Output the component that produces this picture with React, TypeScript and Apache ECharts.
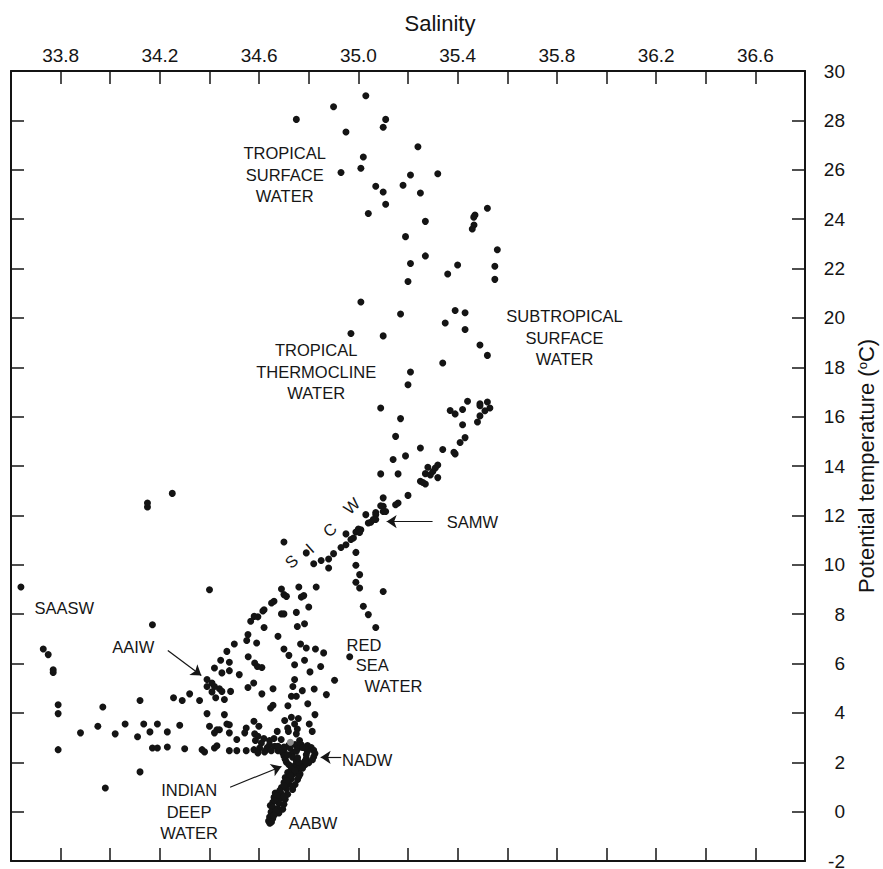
import React, { useEffect, useRef } from 'react';
import * as echarts from 'echarts';

// ---------- data (salinity, potential temperature) ----------
const surfacePts: number[][] = [
  [35.03, 29.0], [34.9, 28.55], [34.75, 28.04], [35.11, 28.04], [35.1, 27.72], [34.95, 27.53],
  [35.24, 26.93], [35.02, 26.52], [35.01, 26.06], [34.93, 25.89], [35.21, 25.79], [35.32, 25.84],
  [35.07, 25.33], [35.18, 25.37], [35.1, 25.1], [35.25, 25.06], [35.11, 24.6], [35.04, 24.23],
  [35.52, 24.44], [35.47, 24.17], [35.465, 24.08], [35.466, 23.76], [35.459, 23.6], [35.27, 23.91],
  [35.19, 23.29], [35.56, 22.76], [35.27, 22.51], [35.21, 22.2], [35.4, 22.14], [35.55, 22.09],
  [35.36, 21.78], [35.2, 21.47], [35.55, 21.56],
];

const thermoclinePts: number[][] = [
  [35.01, 20.64], [35.17, 20.16], [35.39, 20.3], [35.43, 20.21], [35.35, 19.79], [35.43, 19.53],
  [34.97, 19.37], [35.1, 19.27], [35.49, 18.9], [35.52, 18.48], [35.34, 18.17], [35.21, 17.81],
  [35.2, 17.29], [35.09, 16.35], [35.44, 16.62], [35.37, 16.25], [35.39, 16.11], [35.42, 16.29],
  [35.49, 16.52], [35.49, 16.44], [35.52, 16.59], [35.53, 16.35], [35.51, 16.24], [35.49, 16.03],
  [35.48, 15.78], [35.42, 15.67], [35.17, 15.92], [35.43, 15.15], [35.41, 14.95], [35.15, 15.2],
  [35.25, 14.73], [35.34, 14.67], [35.39, 14.49], [35.385, 14.56], [35.19, 14.41], [35.14, 14.26],
  [35.32, 14.04], [35.31, 13.92], [35.28, 13.95], [35.27, 13.69], [35.29, 13.64], [35.3, 13.78],
  [35.32, 13.53], [35.09, 13.68], [35.16, 13.68], [35.25, 13.38], [35.27, 13.27], [35.26, 13.33],
  [35.2, 12.81], [35.1, 12.71],
];

const centralPts: number[][] = [
  [35.16, 12.5], [35.15, 12.43], [35.1, 12.37], [35.11, 12.16], [35.09, 12.39], [35.1, 12.16],
  [35.07, 12.12], [35.07, 12.03], [35.03, 12.03], [35.06, 11.83], [35.05, 11.72], [35.04, 11.69],
  [35.07, 11.83], [35.01, 11.42], [35.0, 11.45], [34.99, 11.33], [35.005, 11.31], [34.95, 11.25],
  [34.98, 11.08], [34.97, 11.02], [34.95, 10.81], [34.93, 10.7], [34.9, 10.45], [34.88, 10.23],
  [34.85, 10.17], [34.82, 10.04], [34.88, 9.87], [34.79, 10.48], [34.7, 10.92],
];

const redSeaPts: number[][] = [
  [34.99, 10.5], [34.99, 9.98], [35.005, 9.6], [34.99, 9.29], [35.005, 9.06], [35.1, 8.92],
  [35.02, 8.32], [35.04, 7.98], [35.07, 7.46], [34.965, 6.27],
];

const isolatedPts: number[][] = [
  [34.15, 12.34], [34.15, 12.5], [34.25, 12.89], [33.64, 9.1], [34.4, 8.99], [34.17, 7.57],
];

const intermediatePts: number[][] = [
  [34.76, 9.1], [34.83, 9.1], [34.69, 9.02], [34.7, 8.79], [34.71, 8.72], [34.77, 8.69],
  [34.78, 8.75], [34.66, 8.52], [34.65, 8.45], [34.8, 8.29], [34.75, 8.07], [34.69, 8.01],
  [34.7, 8.01], [34.62, 8.18], [34.615, 8.13], [34.58, 7.91], [34.595, 7.89],
  [33.73, 6.59], [33.75, 6.36], [33.77, 5.75], [33.77, 5.64], [33.79, 4.33], [33.79, 3.97],
  [33.79, 2.51], [33.88, 3.19], [33.95, 3.46], [33.97, 4.24], [33.98, 0.96], [34.02, 3.15],
  [34.06, 3.55], [34.12, 4.5], [34.11, 3.03], [34.135, 3.55], [34.12, 1.61], [34.16, 3.23],
  [34.19, 3.55], [34.17, 2.58], [34.19, 2.58], [34.23, 2.62], [34.23, 3.23], [34.28, 3.5],
  [34.3, 2.55], [34.255, 4.61], [34.29, 4.5], [34.32, 4.77], [34.36, 4.5], [34.37, 2.51],
  [34.38, 2.42], [34.39, 3.97], [34.4, 3.46], [34.43, 3.32], [34.44, 3.32], [34.42, 3.19],
  [34.42, 2.58], [34.43, 2.67], [34.48, 2.47], [34.51, 2.47], [34.46, 3.93], [34.47, 3.55],
  [34.48, 3.52], [34.48, 3.19], [34.51, 2.92], [34.39, 5.35], [34.41, 5.21], [34.39, 5.07],
  [34.42, 5.07], [34.44, 4.98], [34.45, 4.87], [34.485, 4.87], [34.41, 4.85], [34.425, 4.61],
  [34.46, 4.54], [34.42, 5.82], [34.45, 5.62], [34.48, 5.71], [34.48, 6.05], [34.445, 6.13],
  [34.47, 6.49], [34.5, 6.79], [34.52, 5.55],
  [34.566, 7.71], [34.62, 7.46], [34.754, 7.5], [34.783, 7.61], [34.555, 7.17], [34.55, 6.93],
  [34.59, 6.83], [34.676, 7.1], [34.7, 6.59], [34.72, 6.33], [34.767, 6.79], [34.79, 6.63],
  [34.827, 6.59], [34.86, 6.43], [34.556, 6.27], [34.582, 6.02], [34.593, 5.88], [34.611, 5.84],
  [34.743, 5.95], [34.783, 6.13], [34.848, 5.88], [34.805, 5.66], [34.743, 5.35], [34.578, 5.21],
  [34.555, 5.03], [34.736, 5.07], [34.904, 5.32], [34.656, 4.98], [34.774, 4.9], [34.822, 4.97],
  [34.611, 4.77], [34.73, 4.67], [34.75, 4.67], [34.871, 4.74], [34.796, 4.37], [34.656, 4.31],
  [34.646, 4.2], [34.716, 4.29], [34.825, 3.93], [34.73, 3.82], [34.758, 3.77], [34.703, 3.69],
  [34.579, 3.66], [34.802, 3.55], [34.743, 3.55], [34.599, 3.46], [34.548, 3.39], [34.715, 3.39],
  [34.718, 3.25], [34.754, 3.35], [34.75, 3.15], [34.814, 3.25], [34.542, 3.19], [34.582, 3.15],
  [34.595, 3.05], [34.673, 3.25], [34.619, 2.96], [34.642, 2.88], [34.66, 2.96], [34.689, 2.92],
  [34.585, 2.88], [34.609, 2.78], [34.763, 2.88], [34.642, 2.71], [34.663, 2.65], [34.633, 2.6],
  [34.548, 2.47], [34.579, 2.51], [34.602, 2.58], [34.629, 2.51], [34.649, 2.47], [34.676, 2.47],
  [34.696, 2.47], [34.595, 2.38], [34.622, 2.42], [34.676, 2.65],
];

const deepPts: number[][] = [
  // NADW loop
  [34.7, 2.62], [34.72, 2.7], [34.745, 2.72], [34.77, 2.71], [34.795, 2.68], [34.81, 2.6],
  [34.82, 2.48], [34.825, 2.35], [34.82, 2.22], [34.815, 2.1], [34.8, 1.98], [34.785, 1.9],
  [34.765, 1.86], [34.745, 1.88], [34.7, 2.5], [34.695, 2.38], [34.7, 2.25], [34.705, 2.12],
  [34.71, 2.0], [34.72, 1.9], [34.735, 2.4], [34.735, 2.2], [34.795, 2.45], [34.79, 2.15],
  [34.75, 2.05], [34.725, 2.58], [34.785, 2.58], [34.715, 2.3], [34.755, 2.55], [34.775, 2.6],
  [34.785, 2.05], [34.76, 2.0], [34.75, 2.45], [34.79, 2.3], [34.755, 2.18],
  // AABW tail
  [34.73, 1.75], [34.755, 1.72], [34.775, 1.76], [34.715, 1.58], [34.74, 1.55], [34.765, 1.52],
  [34.705, 1.38], [34.73, 1.33], [34.755, 1.3], [34.7, 1.18], [34.72, 1.12], [34.745, 1.1],
  [34.69, 0.98], [34.71, 0.93], [34.735, 0.9], [34.665, 0.75], [34.69, 0.72], [34.715, 0.7],
  [34.66, 0.58], [34.685, 0.53], [34.705, 0.5], [34.655, 0.38], [34.68, 0.33], [34.7, 0.3],
  [34.645, 0.25], [34.655, 0.18], [34.675, 0.12], [34.695, 0.1], [34.648, -0.02], [34.665, -0.08],
  [34.68, -0.05], [34.642, -0.22], [34.655, -0.28], [34.638, -0.38], [34.643, -0.47], [34.65, -0.42],
  [34.745, 1.65], [34.725, 1.45], [34.712, 1.25], [34.7, 1.05], [34.683, 0.85], [34.672, 0.65],
  [34.662, 0.45], [34.668, 0.02], [34.66, -0.15], [34.76, 1.42], [34.735, 1.02], [34.7, 0.62],
];

const greyPts: number[][] = [[34.726, 2.81]];

// tick labels shown along the top axis
const xLabelValues: number[] = [33.8, 34.2, 34.6, 35.0, 35.4, 35.8, 36.2, 36.6];

// water-mass annotations (text + anchor in data units)
const annotations = [
  { text: 'TROPICAL\nSURFACE\nWATER', at: [34.703, 25.79], align: 'center' },
  { text: 'TROPICAL\nTHERMOCLINE\nWATER', at: [34.83, 17.81], align: 'center' },
  { text: 'SUBTROPICAL\nSURFACE\nWATER', at: [35.831, 19.2], align: 'center' },
  { text: 'SAMW', at: [35.356, 11.75], align: 'left' },
  { text: 'SAASW', at: [33.695, 8.25], align: 'left' },
  { text: 'AAIW', at: [34.008, 6.67], align: 'left' },
  { text: 'RED', at: [34.952, 6.76], align: 'left' },
  { text: 'SEA', at: [34.989, 5.93], align: 'left' },
  { text: 'WATER', at: [35.025, 5.07], align: 'left' },
  { text: 'NADW', at: [34.934, 2.11], align: 'left' },
  { text: 'INDIAN\nDEEP\nWATER', at: [34.318, -0.01], align: 'center' },
  { text: 'AABW', at: [34.719, -0.46], align: 'left' },
];
const sicwLetters = [
  { text: 'S', at: [34.73, 10.14] },
  { text: 'I', at: [34.804, 10.68] },
  { text: 'C', at: [34.884, 11.42] },
  { text: 'W', at: [34.972, 12.39] },
];
const arrows = [
  { from: [35.299, 11.75], to: [35.114, 11.75] },
  { from: [34.232, 6.53], to: [34.367, 5.51] },
  { from: [34.931, 2.2], to: [34.848, 2.2] },
  { from: [34.483, 0.99], to: [34.69, 1.83] },
];

const FONT = '"Liberation Sans", Arial, Helvetica, sans-serif';
const INK = '#141414';
const TEXT_INK = '#161616';

export default function App() {
  const ref = useRef<HTMLDivElement>(null);
  useEffect(() => {
    if (!ref.current) return;
    const chart = echarts.init(ref.current, undefined, { renderer: 'svg' });
    const axisBase = {
      type: 'value' as const,
      axisLine: { show: true, onZero: false, lineStyle: { color: INK, width: 2 } },
      axisTick: { show: true, inside: true, length: 13, lineStyle: { color: INK, width: 1.5 } },
      splitLine: { show: false },
    };
    const xBase = { ...axisBase, min: 33.6, max: 36.8, interval: 0.2 };
    const yBase = { ...axisBase, min: -2, max: 30, interval: 2 };
    const mainPts = [
      ...surfacePts, ...thermoclinePts, ...centralPts, ...redSeaPts,
      ...isolatedPts, ...intermediatePts, ...deepPts,
    ];
    const labelStyle = {
      show: true,
      color: TEXT_INK,
      textBorderWidth: 0,
      textBorderColor: 'transparent',
      textShadowBlur: 0,
      opacity: 1,
    };
    const textItems = [
      ...annotations.map((a) => ({
        value: a.at,
        label: { ...labelStyle, formatter: a.text, align: a.align, verticalAlign: 'middle' },
      })),
      ...sicwLetters.map((a) => ({
        value: a.at,
        label: { ...labelStyle, formatter: a.text, align: 'center', verticalAlign: 'middle', rotate: 42 },
      })),
    ];
    chart.setOption({
      animation: false,
      backgroundColor: '#ffffff',
      textStyle: { fontFamily: FONT },
      grid: { left: 11, right: 78, top: 71, bottom: 8, containLabel: false, outerBoundsMode: 'none' },
      xAxis: [
        {
          ...xBase,
          position: 'top',
          axisLabel: {
            show: true,
            margin: 6,
            fontSize: 19,
            color: INK,
            fontFamily: FONT,
            formatter: (v: number) => {
              const hit = xLabelValues.some((t) => Math.abs(t - v) < 1e-6);
              return hit ? v.toFixed(1) : '';
            },
          },
          name: 'Salinity',
          nameLocation: 'middle',
          nameGap: 37,
          nameTextStyle: { fontSize: 22, color: INK, fontFamily: FONT, padding: [0, 0, 0, 64] },
        },
        { ...xBase, position: 'bottom', axisLabel: { show: false } },
      ],
      yAxis: [
        {
          ...yBase,
          position: 'right',
          axisLabel: { show: true, align: 'right', margin: 40, fontSize: 19, color: INK, fontFamily: FONT },
          name: 'Potential temperature ({sup|o}C)',
          nameLocation: 'middle',
          nameRotate: 90,
          nameGap: 50,
          nameTextStyle: {
            fontSize: 22,
            color: INK,
            fontFamily: FONT,
            rich: { sup: { fontSize: 13, verticalAlign: 'top', color: INK, fontFamily: FONT } },
          },
        },
        { ...yBase, position: 'left', axisLabel: { show: false } },
      ],
      series: [
        {
          type: 'scatter',
          name: 'Stations',
          xAxisIndex: 0,
          yAxisIndex: 0,
          data: mainPts,
          symbolSize: 7,
          itemStyle: { color: INK, opacity: 1 },
          silent: true,
        },
        {
          type: 'scatter',
          name: 'Grey',
          xAxisIndex: 0,
          yAxisIndex: 0,
          data: greyPts,
          symbolSize: 7,
          itemStyle: { color: '#8c8c8c', opacity: 1 },
          silent: true,
        },
        {
          type: 'scatter',
          name: 'Labels',
          xAxisIndex: 0,
          yAxisIndex: 0,
          data: textItems,
          symbolSize: 0,
          silent: true,
          itemStyle: { color: TEXT_INK, opacity: 1 },
          label: {
            show: true,
            position: 'inside',
            fontSize: 16.5,
            lineHeight: 21.5,
            color: TEXT_INK,
            fontFamily: FONT,
            textBorderWidth: 0,
          },
          markLine: {
            silent: true,
            symbol: ['none', 'arrow'],
            symbolSize: 10,
            label: { show: false },
            lineStyle: { color: TEXT_INK, width: 1.2, type: 'solid' },
            emphasis: { disabled: true },
            data: arrows.map((a) => [{ coord: a.from }, { coord: a.to }]),
          },
        },
      ],
    });
    return () => chart.dispose();
  }, []);
  return (
    <div
      ref={ref}
      style={{ position: 'fixed', left: 0, top: 0, width: 883, height: 869, background: '#fff' }}
    />
  );
}
